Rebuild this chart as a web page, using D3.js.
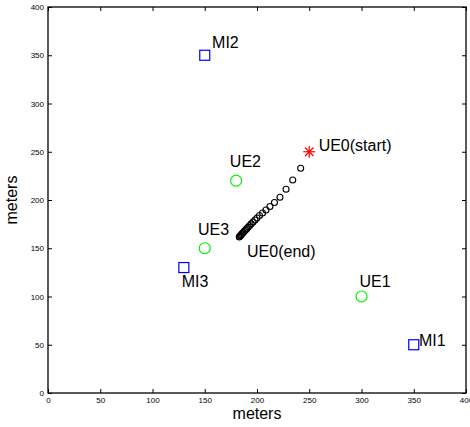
<!DOCTYPE html>
<html><head><meta charset="utf-8">
<script src="https://cdn.jsdelivr.net/npm/d3@7"></script>
<style>body{margin:0;background:#fff;} text{font-family:"Liberation Sans",Arial,Helvetica,sans-serif;}</style>
</head><body>
<svg id="chart" width="470" height="427"></svg>
<script>
const xTicks = [0,50,100,150,200,250,300,350,400];
const yTicks = [0,50,100,150,200,250,300,350,400];
const miNames = ["MI1","MI2","MI3"];
const miX = [350,150,130];
const miY = [50,350,130];
const ueNames = ["UE1","UE2","UE3"];
const ueX = [300,180,150];
const ueY = [100,220,150];
const startPt = [250,250];
const trajX = [241.8,234.2,227.8,222.0,216.7,212.4,208.6,205.3,202.4,200.0,198.1,196.2,194.5,193.0,191.6,190.2,189.0,187.8,186.8,185.8,185.0,184.2,183.5,183.0];
const trajY = [232.9,220.7,211.1,202.8,197.4,193.3,189.6,186.5,183.9,181.3,179.3,177.2,175.3,173.6,171.9,170.3,168.9,167.6,166.3,165.2,164.1,163.2,162.4,161.7];
const labelText = ["MI2","UE0(start)","UE2","UE3","UE0(end)","MI3","UE1","MI1"];
const labelX = [157,259,174,143.5,190.5,128,298,355];
const labelY = [362,255,239,168,145,114,114,53];

const svg = d3.select("#chart");
const L=48,R=466,T=7,B=393;
const x = d3.scaleLinear().domain([0,400]).range([L,R]);
const y = d3.scaleLinear().domain([0,400]).range([B,T]);

const fmt = d3.format("d");
svg.append("g").attr("transform",`translate(0,${B})`)
  .call(d3.axisBottom(x).tickValues(xTicks).tickSize(-4).tickPadding(4).tickFormat(fmt));
svg.append("g").attr("transform",`translate(0,${T})`)
  .call(d3.axisTop(x).tickValues(xTicks).tickSize(-4).tickFormat(""));
svg.append("g").attr("transform",`translate(${L},0)`)
  .call(d3.axisLeft(y).tickValues(yTicks).tickSize(-4).tickPadding(4).tickFormat(fmt));
svg.append("g").attr("transform",`translate(${R},0)`)
  .call(d3.axisRight(y).tickValues(yTicks).tickSize(-4).tickFormat(""));
svg.selectAll(".domain").remove();
svg.selectAll(".tick line").attr("stroke","#000").attr("stroke-width",1);
svg.selectAll(".tick text").attr("font-size",8).attr("fill","#000")
  .attr("font-family","Liberation Sans, Arial, sans-serif");
svg.append("rect").attr("x",L).attr("y",T).attr("width",R-L).attr("height",B-T)
  .attr("fill","none").attr("stroke","#000").attr("stroke-width",1.3);

// trajectory
svg.append("g").selectAll("circle").data(trajX).join("circle")
  .attr("cx",(d)=>x(d)).attr("cy",(d,i)=>y(trajY[i])).attr("r",3)
  .attr("fill","none").attr("stroke","#000").attr("stroke-width",1.1);

// UEs
svg.append("g").selectAll("circle").data(ueX).join("circle")
  .attr("cx",d=>x(d)).attr("cy",(d,i)=>y(ueY[i])).attr("r",5.5)
  .attr("fill","none").attr("stroke","#00ee00").attr("stroke-width",1.2);

// MIs
svg.append("g").selectAll("rect").data(miX).join("rect")
  .attr("x",d=>x(d)-5).attr("y",(d,i)=>y(miY[i])-5).attr("width",10).attr("height",10)
  .attr("fill","none").attr("stroke","#0000ff").attr("stroke-width",1.2);

// start star
const sx=x(startPt[0]), sy=y(startPt[1]), s=6;
const star = svg.append("g").attr("stroke","#ff0000").attr("stroke-width",1.2);
[[0,1],[1,0],[0.7071,0.7071],[0.7071,-0.7071]].forEach(([a,b])=>{
  star.append("line").attr("x1",sx-a*s).attr("y1",sy-b*s).attr("x2",sx+a*s).attr("y2",sy+b*s);
});

// labels
svg.append("g").selectAll("text").data(labelText).join("text")
  .attr("x",(d,i)=>x(labelX[i])).attr("y",(d,i)=>y(labelY[i]))
  .attr("dominant-baseline","middle").attr("font-size",16).attr("fill","#000")
  .text(d=>d);

svg.append("text").attr("x",(L+R)/2).attr("y",419).attr("text-anchor","middle")
  .attr("font-size",16).text("meters");
svg.append("text").attr("transform",`translate(17,${(T+B)/2}) rotate(-90)`)
  .attr("text-anchor","middle").attr("font-size",16).text("meters");
</script>
</body></html>
